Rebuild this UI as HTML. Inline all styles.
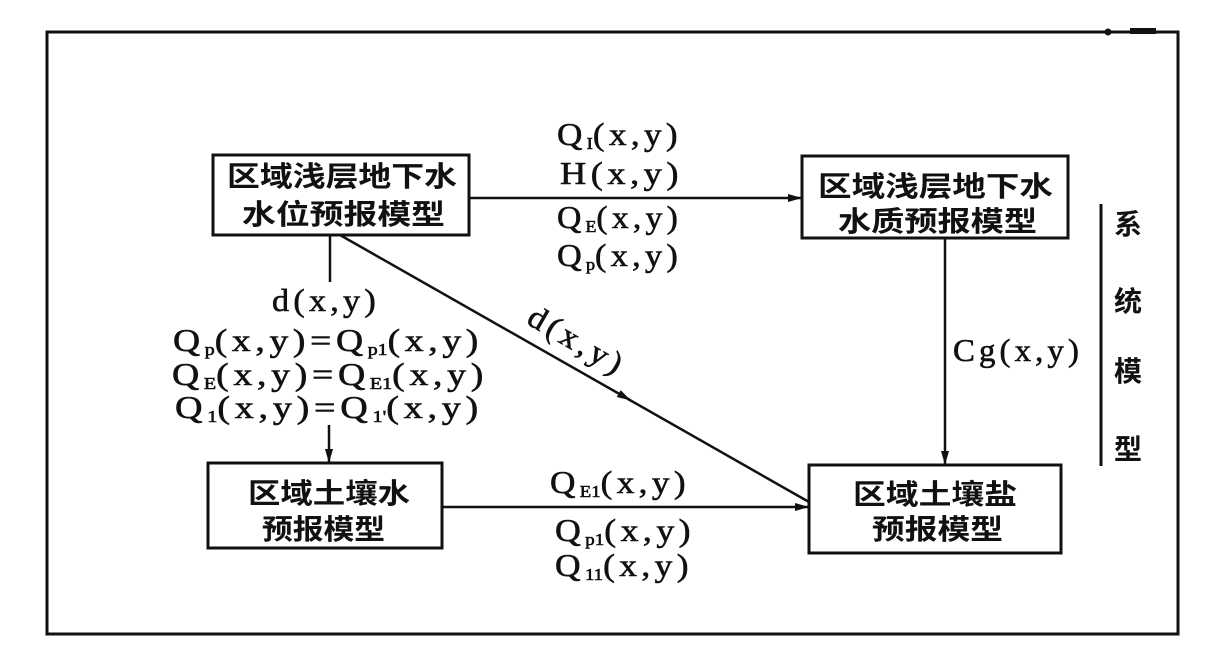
<!DOCTYPE html>
<html><head><meta charset="utf-8"><style>
html,body{margin:0;padding:0;background:#fff;}
svg{display:block;}
.cj{font-family:"Liberation Sans","Noto Sans CJK SC",sans-serif;font-weight:bold;font-size:28px;fill:#111;}
.lt{font-family:"Liberation Serif","Noto Serif CJK SC",serif;font-size:32px;fill:#111;stroke:#111;stroke-width:0.6;letter-spacing:4px;}
.sb{font-size:17px;letter-spacing:0px;}
</style></head><body>
<svg width="1220" height="664" viewBox="0 0 1220 664" xmlns="http://www.w3.org/2000/svg">
<defs>
<marker id="ah" markerWidth="14" markerHeight="10" refX="13" refY="5" orient="auto" markerUnits="userSpaceOnUse">
<path d="M0,1 L14,5 L0,9 Z" fill="#111"/>
</marker>
</defs>
<g fill="none" stroke="#111" stroke-width="3">
<path d="M47,32 H1178 V634 H47 Z"/>
<rect x="213" y="155" width="256" height="80"/>
<rect x="802" y="156" width="266" height="82"/>
<rect x="208" y="463" width="234" height="85"/>
<rect x="809" y="465" width="252" height="88"/>
<line x1="1101" y1="204" x2="1101" y2="466"/>
</g>
<g stroke="#111" stroke-width="2.5" fill="none">
<line x1="469" y1="198" x2="801" y2="198" marker-end="url(#ah)"/>
<line x1="442" y1="507" x2="808" y2="507" marker-end="url(#ah)"/>
<line x1="945" y1="238" x2="945" y2="464" marker-end="url(#ah)"/>
<line x1="330" y1="235" x2="330" y2="282"/>
<line x1="329" y1="425" x2="329" y2="462" marker-end="url(#ah)"/>
<line x1="340" y1="235" x2="630" y2="400" marker-end="url(#ah)"/>
<line x1="628" y1="399" x2="809" y2="502"/>
</g>
<circle cx="1108" cy="32" r="3.5" fill="#111"/>
<rect x="1130" y="28" width="26" height="6" fill="#111"/>

<!-- box texts -->
<text class="cj" x="227" y="186" textLength="230" lengthAdjust="spacingAndGlyphs">区域浅层地下水</text>
<text class="cj" x="242" y="224" textLength="203" lengthAdjust="spacingAndGlyphs">水位预报模型</text>
<text class="cj" x="818" y="196" textLength="235" lengthAdjust="spacingAndGlyphs">区域浅层地下水</text>
<text class="cj" x="838" y="231" textLength="199" lengthAdjust="spacingAndGlyphs">水质预报模型</text>
<text class="cj" x="248" y="503" textLength="162" lengthAdjust="spacingAndGlyphs">区域土壤水</text>
<text class="cj" x="262" y="539" textLength="123" lengthAdjust="spacingAndGlyphs">预报模型</text>
<text class="cj" x="853" y="504" textLength="164" lengthAdjust="spacingAndGlyphs">区域土壤盐</text>
<text class="cj" x="872" y="539" textLength="131" lengthAdjust="spacingAndGlyphs">预报模型</text>

<!-- side label -->
<text class="cj" x="1128" y="234" text-anchor="middle">系</text>
<text class="cj" x="1128" y="311" text-anchor="middle">统</text>
<text class="cj" x="1128" y="381" text-anchor="middle">模</text>
<text class="cj" x="1128" y="459" text-anchor="middle">型</text>

<!-- top labels -->
<text class="lt" x="557" y="145" textLength="125" lengthAdjust="spacingAndGlyphs">Q<tspan class="sb" dy="4">I</tspan><tspan dy="-4">(x,y)</tspan></text>
<text class="lt" x="560" y="184" textLength="123" lengthAdjust="spacingAndGlyphs">H(x,y)</text>
<text class="lt" x="557" y="228" textLength="125" lengthAdjust="spacingAndGlyphs">Q<tspan class="sb" dy="4">E</tspan><tspan dy="-4">(x,y)</tspan></text>
<text class="lt" x="557" y="266" textLength="125" lengthAdjust="spacingAndGlyphs">Q<tspan class="sb" dy="4">p</tspan><tspan dy="-4">(x,y)</tspan></text>

<!-- left labels -->
<text class="lt" x="272" y="311" textLength="108" lengthAdjust="spacingAndGlyphs">d(x,y)</text>
<text class="lt" x="173" y="351" textLength="310" lengthAdjust="spacingAndGlyphs">Q<tspan class="sb" dy="4">p</tspan><tspan dy="-4">(x,y)=Q</tspan><tspan class="sb" dy="4">p1</tspan><tspan dy="-4">(x,y)</tspan></text>
<text class="lt" x="172" y="385" textLength="316" lengthAdjust="spacingAndGlyphs">Q<tspan class="sb" dy="4">E</tspan><tspan dy="-4">(x,y)=Q</tspan><tspan class="sb" dy="4">E1</tspan><tspan dy="-4">(x,y)</tspan></text>
<text class="lt" x="175" y="418" textLength="308" lengthAdjust="spacingAndGlyphs">Q<tspan class="sb" dy="4">1</tspan><tspan dy="-4">(x,y)=Q</tspan><tspan class="sb" dy="4">1'</tspan><tspan dy="-4">(x,y)</tspan></text>

<!-- diagonal label -->
<g transform="translate(572,350) rotate(30)">
<text class="lt" x="0" y="0" text-anchor="middle" textLength="108" lengthAdjust="spacingAndGlyphs">d(x,y)</text>
</g>

<!-- Cg -->
<text class="lt" x="953" y="361" textLength="130" lengthAdjust="spacingAndGlyphs">Cg(x,y)</text>

<!-- bottom labels -->
<text class="lt" x="550" y="493" textLength="140" lengthAdjust="spacingAndGlyphs">Q<tspan class="sb" dy="4">E1</tspan><tspan dy="-4">(x,y)</tspan></text>
<text class="lt" x="555" y="541" textLength="140" lengthAdjust="spacingAndGlyphs">Q<tspan class="sb" dy="4">p1</tspan><tspan dy="-4">(x,y)</tspan></text>
<text class="lt" x="555" y="576" textLength="138" lengthAdjust="spacingAndGlyphs">Q<tspan class="sb" dy="4">11</tspan><tspan dy="-4">(x,y)</tspan></text>
</svg>
</body></html>
